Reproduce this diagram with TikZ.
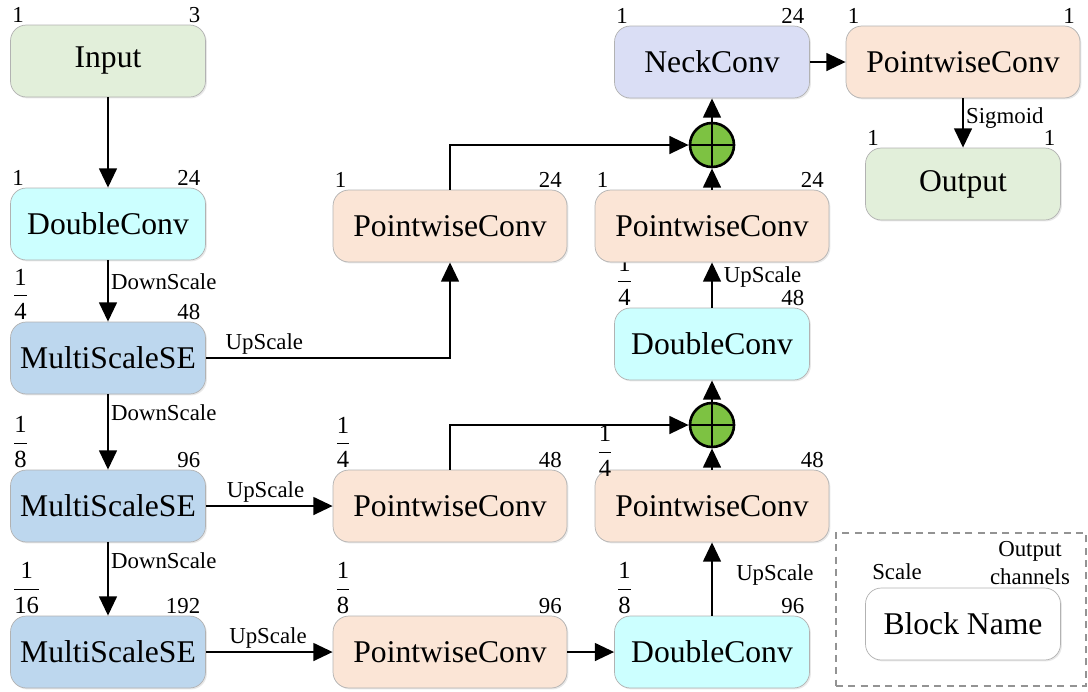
\documentclass[tikz,border=0pt]{standalone}
\usepackage{fontspec}
\usepackage{amsmath}
\setmainfont{Liberation Serif}
\usetikzlibrary{arrows.meta,shadows}
\definecolor{cin}{RGB}{226,239,218}
\definecolor{cdc}{RGB}{204,255,255}
\definecolor{cmse}{RGB}{189,215,238}
\definecolor{cpw}{RGB}{251,229,214}
\definecolor{cneck}{RGB}{218,222,245}
\definecolor{cplus}{RGB}{125,194,66}
\newcommand{\fr}[2]{{\fontsize{14}{16}\selectfont\ensuremath{\dfrac{\mbox{#1}}{\mbox{#2}}}}}
\begin{document}
\begin{tikzpicture}[x=0.02cm,y=-0.02cm,
 blk/.style={draw=gray!60, line width=0.4pt, rounded corners=9pt, minimum width=3.9cm, minimum height=1.44cm, inner sep=0pt, font=\fontsize{18}{21}\selectfont, drop shadow={opacity=0.18,shadow xshift=0.8pt,shadow yshift=-0.8pt}},
 wblk/.style={blk, minimum width=4.68cm},
 sc/.style={font=\fontsize{13}{15.5}\selectfont, inner sep=1pt},
 sclab/.style={label={[sc,anchor=south west]north west:#1}},
 sclabdown/.style={label={[sc,anchor=south west,yshift=-5pt]north west:#1}},
 chlab/.style={label={[sc,anchor=south east,xshift=-2pt]north east:#1}},
 arr/.style={line width=1.6pt, -{Triangle[length=11pt,width=10pt]}},
 plus/.style={circle, draw, line width=1.5pt, fill=cplus, minimum size=0.88cm, inner sep=0pt}
]
\useasboundingbox (0,0) rectangle (1088,691);
% left column
\node[blk, fill=cin, sclab=1, chlab=3] (in) at (108,61) {Input};
\node[blk, fill=cdc, sclab=1, chlab=24] (dc1) at (108,224) {DoubleConv};
\node[blk, fill=cmse, sclab={\fr{1}{4}}, chlab=48] (m1) at (108,358) {MultiScaleSE};
\node[blk, fill=cmse, sclab={\fr{1}{8}}, chlab=96] (m2) at (108,506) {MultiScaleSE};
\node[blk, fill=cmse, sclab={\fr{1}{16}}, chlab=192] (m3) at (108,652) {MultiScaleSE};
% middle column
\node[wblk, fill=cpw, sclab=1, chlab=24] (p1) at (450,226) {PointwiseConv};
\node[wblk, fill=cpw, sclab={\fr{1}{4}}, chlab=48] (p2) at (450,506) {PointwiseConv};
\node[wblk, fill=cpw, sclab={\fr{1}{8}}, chlab=96] (p3) at (450,652) {PointwiseConv};
% right column
\node[blk, fill=cdc, sclab={\fr{1}{8}}, chlab=96] (d3) at (712,652) {DoubleConv};
\node[wblk, fill=cpw, sclabdown={\fr{1}{4}}, chlab=48] (q2) at (712,506) {PointwiseConv};
\node[plus] (s2) at (712,425) {};
\node[blk, fill=cdc, sclab={\fr{1}{4}}, chlab=48] (d2) at (712,344) {DoubleConv};
\node[wblk, fill=cpw, sclab=1, chlab=24] (q1) at (712,226) {PointwiseConv};
\node[plus] (s1) at (712,145) {};
\node[blk, fill=cneck, sclab=1, chlab=24] (nk) at (712,62) {NeckConv};
% far right
\node[wblk, fill=cpw, sclab=1, chlab=1] (po) at (963,62) {PointwiseConv};
\node[blk, fill=cin, sclab=1, chlab=1] (out) at (963,184) {Output};
% legend
\node[draw=gray!85, dash pattern=on 4pt off 3pt, line width=0.8pt, minimum width=5cm, minimum height=3.06cm, inner sep=0pt] (leg) at (961,609.5) {};
\node[blk, fill=white] (bn) at (963,624) {Block Name};
\node[sc] (lsc) at (897,572) {Scale};
\node[sc, align=center] (loc) at (1030,563) {Output\\channels};
% plus crosses
\draw[line width=1.5pt] (s1.north)--(s1.south) (s1.west)--(s1.east);
\draw[line width=1.5pt] (s2.north)--(s2.south) (s2.west)--(s2.east);
% edges
\draw[arr] (in) -- (dc1);
\draw[arr] (dc1) -- node[sc,right,pos=0.35]{DownScale} (m1);
\draw[arr] (m1) -- node[sc,right,pos=0.25]{DownScale} (m2);
\draw[arr] (m2) -- node[sc,right,pos=0.25]{DownScale} (m3);
\draw[arr] (m1.east) -| node[sc,above,pos=0.12]{UpScale} (p1.south);
\draw[arr] (m2) -- node[sc,above,pos=0.47]{UpScale} (p2);
\draw[arr] (m3) -- node[sc,above,pos=0.49]{UpScale} (p3);
\draw[arr] (p3) -- (d3);
\draw[arr] (d3) -- node[sc,right=12pt,pos=0.55]{UpScale} (q2);
\draw[arr] (q2) -- (s2);
\draw[arr] (p2.north) |- (s2.west);
\draw[arr] (s2) -- (d2);
\draw[arr] (d2) -- node[sc,right=5pt,pos=0.67]{UpScale} (q1);
\draw[arr] (q1) -- (s1);
\draw[arr] (p1.north) |- (s1.west);
\draw[arr] (s1) -- (nk);
\draw[arr] (nk) -- (po);
\draw[arr] (po) -- node[sc,right,pos=0.4]{Sigmoid} (out);
\end{tikzpicture}
\end{document}
